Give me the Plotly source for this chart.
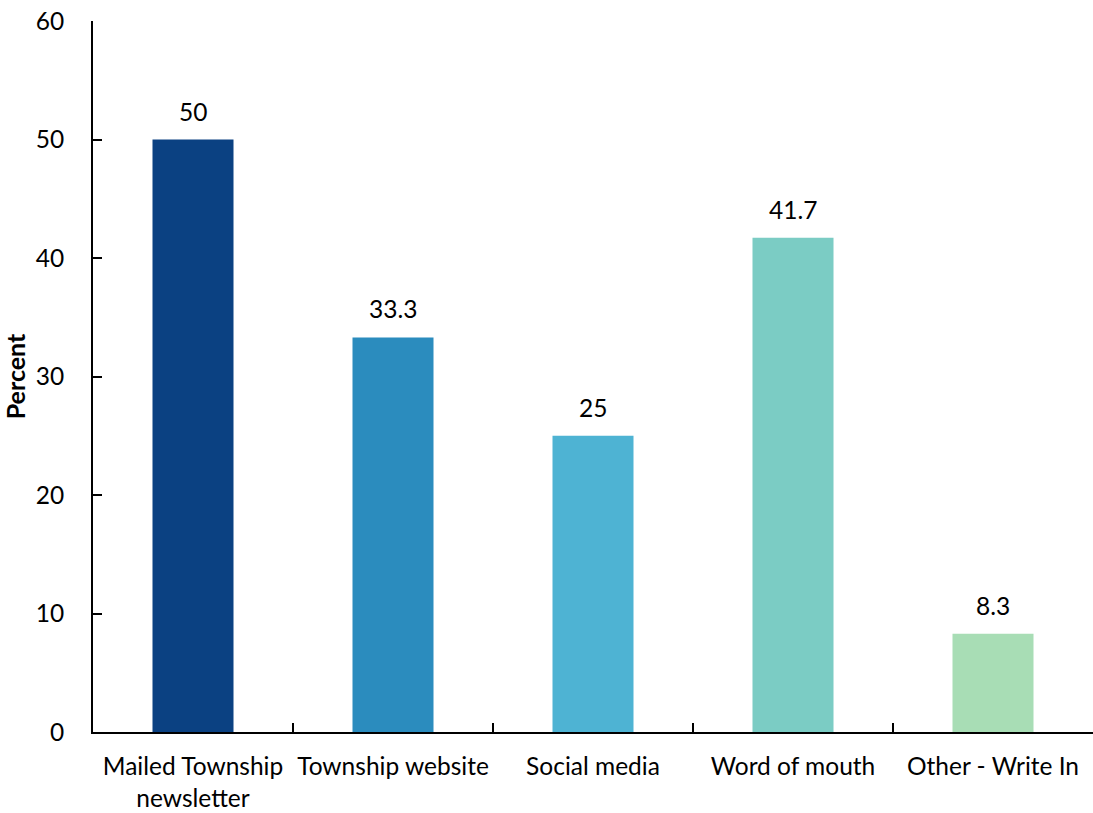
import plotly.graph_objects as go

categories = ["Mailed Township<br>newsletter", "Township website", "Social media", "Word of mouth", "Other - Write In"]
values = [50, 33.3, 25, 41.7, 8.3]
labels = ["50", "33.3", "25", "41.7", "8.3"]
colors = ["#0B4182", "#2B8CBE", "#4EB3D3", "#7BCCC4", "#A8DDB5"]
y_ticks = [0, 10, 20, 30, 40, 50, 60]

FONT = "Lato, Open Sans, sans-serif"
FS = 24.5

fig = go.Figure(go.Bar(
    x=categories, y=values, marker=dict(color=colors, line=dict(width=0)),
))
for c, v, t in zip(categories, values, labels):
    fig.add_annotation(x=c, y=v, text=t, showarrow=False, yanchor="bottom",
                       yshift=12, font=dict(family=FONT, size=FS, color="black"))
fig.update_layout(
    width=1093, height=813,
    margin=dict(l=93, r=0, t=21, b=81),
    plot_bgcolor="white", paper_bgcolor="white",
    bargap=0.595, showlegend=False,
    font=dict(family=FONT, size=FS, color="black"),
)
fig.update_xaxes(
    showline=True, linecolor="black", linewidth=2, automargin=False, tickangle=0,
    ticks="inside", tickson="boundaries", ticklen=9, tickcolor="black", tickwidth=2,
    showgrid=False, tickfont=dict(family=FONT, size=FS), ticklabelstandoff=12,
)
fig.update_yaxes(
    range=[0, 60], tickvals=y_ticks, showline=True, linecolor="black", linewidth=2,
    automargin=False, ticklabeloverflow="allow",
    ticks="inside", ticklen=9, tickcolor="black", tickwidth=1.5,
    showgrid=False, zeroline=False, ticklabelstandoff=22,
    tickfont=dict(family=FONT, size=FS),
    title=dict(text="<b>Percent</b>", font=dict(family=FONT, size=25), standoff=10),
)
fig.write_html("out.html", config={"displayModeBar": False},
               post_script="document.body.style.margin='0';document.body.style.overflow='hidden';")
